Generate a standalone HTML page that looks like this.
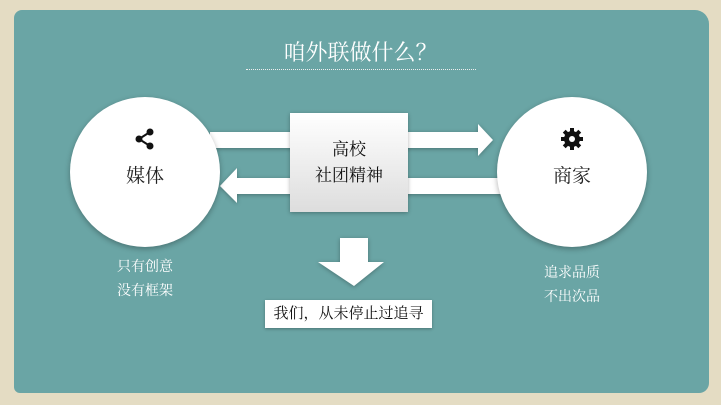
<!DOCTYPE html>
<html><head><meta charset="utf-8"><style>
body{margin:0;width:721px;height:405px;overflow:hidden;background:#e4dcc3;font-family:"Liberation Serif","Noto Serif CJK SC",serif;}
.bg{position:absolute;left:14px;top:10px;width:695px;height:383px;background:#6aa5a5;border-radius:8px 14px 10px 6px;}
.c{position:absolute;width:150px;height:150px;border-radius:50%;background:#fff;box-shadow:0 2px 6px rgba(0,0,0,.3);text-align:center;font-size:19px;color:#222;}
.t{position:absolute;color:#fff;font-size:14px;line-height:24px;}
</style></head><body>
<div class="bg"></div>
<div style="position:absolute;left:0;top:36px;width:721px;text-align:center;color:#fff;font-size:22px">咱外联做什么？</div>
<div style="position:absolute;left:246px;top:69px;width:230px;border-top:1px dotted #eee"></div>
<svg width="721" height="405" style="position:absolute;left:0;top:0">
<g fill="#fff" style="filter:drop-shadow(0 1px 2px rgba(0,0,0,.3))">
<polygon points="210,132 478,132 478,124 493,140 478,156 478,148 210,148"/>
<polygon points="510,178 237,178 237,168 220,186 237,203 237,194 510,194"/>
<polygon points="340,238 368,238 368,262 384,262 354,286 318,262 340,262"/>
</g></svg>
<div class="c" style="left:70px;top:97px"><svg width="24" height="24" style="margin-top:30px" viewBox="0 0 24 24"><line x1="6" y1="12" x2="17" y2="5" stroke="#111" stroke-width="2"/><line x1="6" y1="12" x2="17" y2="19" stroke="#111" stroke-width="2"/><circle cx="6" cy="12" r="3.5" fill="#111"/><circle cx="17" cy="5" r="3.5" fill="#111"/><circle cx="17" cy="19" r="3.5" fill="#111"/></svg><div style="margin-top:4px">媒体</div></div>
<div class="c" style="left:497px;top:97px"><svg width="24" height="24" style="margin-top:30px" viewBox="0 0 24 24"><g fill="#111"><circle cx="12" cy="12" r="8"/><rect x="10" y="1" width="4" height="22"/><rect x="1" y="10" width="22" height="4"/><rect x="10" y="1" width="4" height="22" transform="rotate(45 12 12)"/><rect x="10" y="1" width="4" height="22" transform="rotate(-45 12 12)"/></g><circle cx="12" cy="12" r="3" fill="#fff"/></svg><div style="margin-top:4px">商家</div></div>
<div style="position:absolute;left:290px;top:113px;width:118px;height:99px;background:linear-gradient(#fff,#ddd);box-shadow:0 1px 4px rgba(0,0,0,.3);text-align:center;font-size:17px;line-height:26px;color:#111;padding-top:24px;box-sizing:border-box">高校<br>社团精神</div>
<div style="position:absolute;left:265px;top:300px;width:167px;height:28px;background:#fff;box-shadow:0 1px 3px rgba(0,0,0,.3);text-align:center;font-size:15px;line-height:28px;color:#111">我们，从未停止过追寻</div>
<div class="t" style="left:117px;top:256px">只有创意<br>没有框架</div>
<div class="t" style="left:544px;top:262px">追求品质<br>不出次品</div>
</body></html>
